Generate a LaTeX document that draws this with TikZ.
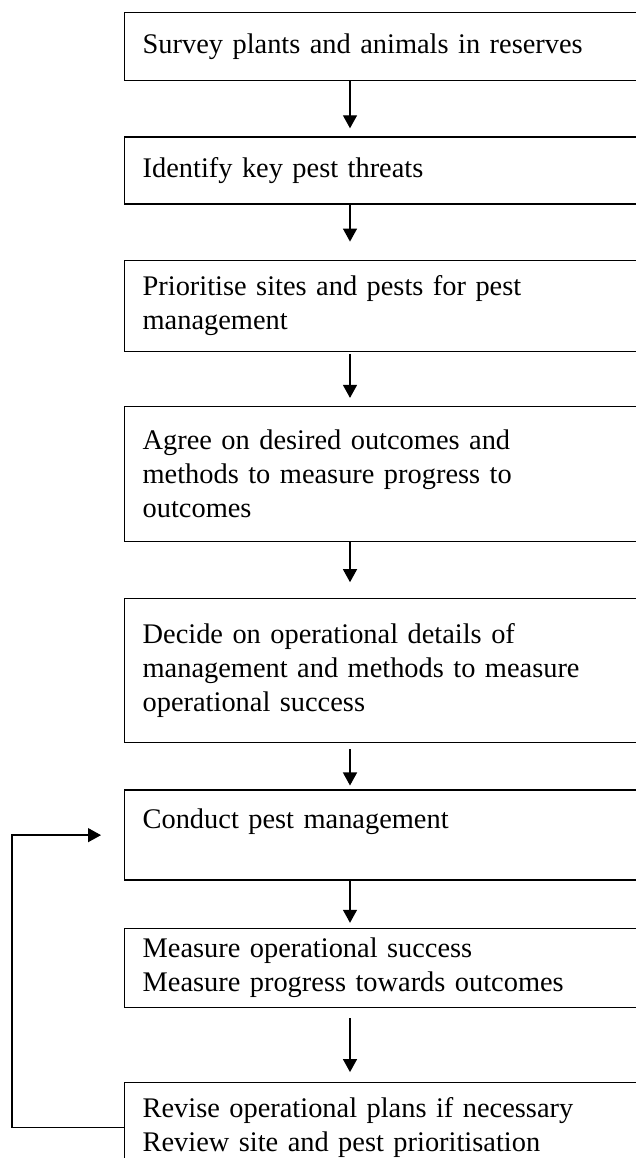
\documentclass[tikz,border=0pt]{standalone}
\usepackage{fontspec}
\setmainfont{Liberation Serif}
\usetikzlibrary{arrows.meta, positioning}

\begin{document}
\begin{tikzpicture}[
    stepbox/.style={rectangle, draw, line width=0.65pt, text width=240pt,
                    inner xsep=9pt, inner ysep=3pt, align=left,
                    font=\fontsize{14.2}{17}\selectfont},
    arr/.style={-{Triangle[length=6.5pt,width=7pt]}, line width=0.65pt, shorten >=4pt},
]
\useasboundingbox (0,0) rectangle (318pt,579pt);
\coordinate (col) at (175pt,0);

\node[stepbox, minimum height=34pt, anchor=north west] (s1) at (62pt,573pt) {Survey plants and animals in reserves};
\node[stepbox, minimum height=33.5pt, below=27.5pt of s1] (s2) {Identify key pest threats};
\node[stepbox, minimum height=45.5pt, below=27.5pt of s2] (s3) {Prioritise sites and pests for pest\\management};
\node[stepbox, minimum height=67.5pt, below=27pt of s3] (s4) {Agree on desired outcomes and\\methods to measure progress to\\outcomes};
\node[stepbox, minimum height=72pt, below=28pt of s4] (s5) {Decide on operational details of\\management and methods to measure\\operational success};
\node[stepbox, minimum height=45pt, below=23pt of s5] (s6) {Conduct pest management\\\mbox{}};
\node[stepbox, minimum height=39.5pt, below=23.5pt of s6] (s7) {Measure operational success\\Measure progress towards outcomes};
\node[stepbox, minimum height=45pt, below=37pt of s7] (s8) {Revise operational plans if necessary\\Review site and pest prioritisation};

\draw[arr] (s1.south -| col) -- (s2.north -| col);
\draw[arr, shorten >=9pt] (s2.south -| col) -- (s3.north -| col);
\draw[arr, shorten <=1pt] (s3.south -| col) -- (s4.north -| col);
\draw[arr, shorten >=8pt] (s4.south -| col) -- (s5.north -| col);
\draw[arr, shorten <=3pt, shorten >=2pt] (s5.south -| col) -- (s6.north -| col);
\draw[arr, shorten >=2.5pt] (s6.south -| col) -- (s7.north -| col);
\draw[arr, shorten <=5pt, shorten >=5pt] (s7.south -| col) -- (s8.north -| col);

% loop back
\draw[arr, shorten >=11.5pt] (s8.west) -- ++(-56pt,0) |- (s6.west);
\end{tikzpicture}
\end{document}
